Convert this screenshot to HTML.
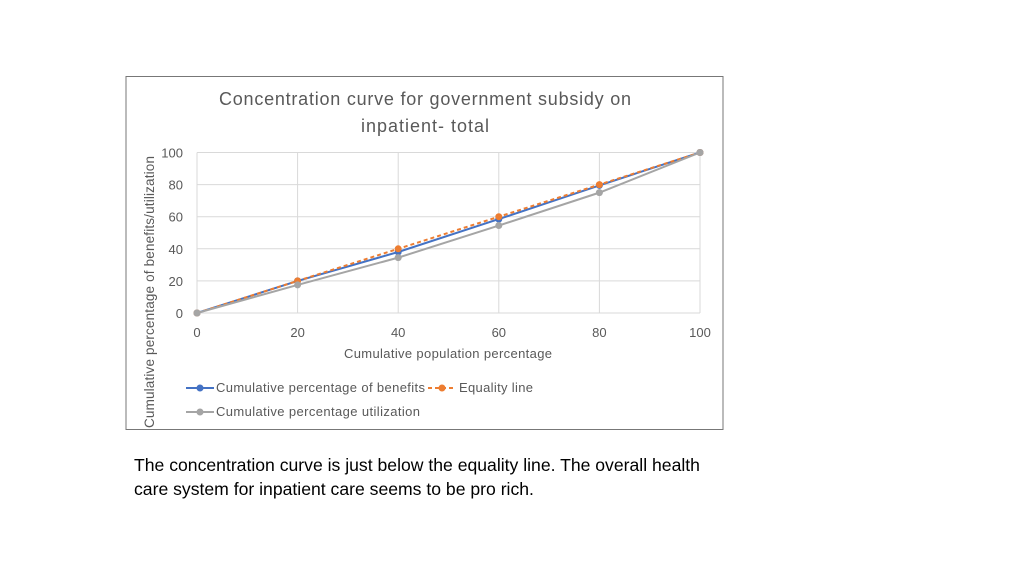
<!DOCTYPE html>
<html><head><meta charset="utf-8"><style>
body{margin:0;width:1024px;height:576px;background:#fff;font-family:"Liberation Sans",sans-serif;overflow:hidden;position:relative}
#cap{position:absolute;left:134px;top:453px;font-size:17.6px;line-height:24px;color:#000;width:640px;white-space:nowrap}
</style></head><body>
<svg width="1024" height="576" style="position:absolute;left:0;top:0">
<rect x="126" y="76.5" width="597" height="353" fill="#fff" stroke="#777"/>
<text x="425" y="105" text-anchor="middle" font-size="18" fill="#595959" textLength="412">Concentration curve for government subsidy on</text>
<text x="425" y="132" text-anchor="middle" font-size="18" fill="#595959" textLength="128">inpatient- total</text>
<g id="grid"></g><g id="series"></g>
<text x="448" y="358" text-anchor="middle" font-size="13" fill="#595959" textLength="208">Cumulative population percentage</text>
<text transform="translate(154,292) rotate(-90)" text-anchor="middle" font-size="13.5" fill="#595959" textLength="272">Cumulative percentage of benefits/utilization</text>
<g><line x1="186" y1="388" x2="214" y2="388" stroke="#4472C4" stroke-width="2"/><circle cx="200" cy="388" r="3.5" fill="#4472C4"/><text x="216" y="392" font-size="13" fill="#595959" textLength="209">Cumulative percentage of benefits</text></g>
<g><line x1="428" y1="388" x2="456" y2="388" stroke="#ED7D31" stroke-width="2" stroke-dasharray="4,3"/><circle cx="442" cy="388" r="3.5" fill="#ED7D31"/><text x="459" y="392" font-size="13" fill="#595959" textLength="74">Equality line</text></g>
<g><line x1="186" y1="412" x2="214" y2="412" stroke="#A5A5A5" stroke-width="2"/><circle cx="200" cy="412" r="3.5" fill="#A5A5A5"/><text x="216" y="416" font-size="13" fill="#595959" textLength="204">Cumulative percentage utilization</text></g>
</svg>
<div id="cap">The concentration curve is just below the equality line. The overall health<br>care system for inpatient care seems to be pro rich.</div>
<script>
const categories=[0,20,40,60,80,100];
const benefits=[0,20,38,58.5,79.5,100];
const equality=[0,20,40,60,80,100];
const utilization=[0,17.5,34.5,54.5,75,100];
const yTicks=[0,20,40,60,80,100];
const xTicks=[0,20,40,60,80,100];
const NS="http://www.w3.org/2000/svg";
const X=v=>197+v/100*503, Y=v=>313-v/100*160.5;
function mk(t,a,p){const e=document.createElementNS(NS,t);for(const k in a)e.setAttribute(k,a[k]);p.appendChild(e);return e;}
const g=document.getElementById('grid'), s=document.getElementById('series');
yTicks.forEach(v=>{const l=mk('line',{x1:197,x2:700,y1:Y(v),y2:Y(v),stroke:'#d9d9d9'},g);


const t=mk('text',{x:183,y:Y(v)+5,'text-anchor':'end','font-size':13,fill:'#595959'},g);t.textContent=v;

});
xTicks.forEach(v=>{const l=mk('line',{x1:X(v),x2:X(v),y1:Y(100),y2:Y(0),stroke:'#d9d9d9'},g);


const t=mk('text',{x:X(v),y:337,'text-anchor':'middle','font-size':13,fill:'#595959'},g);t.textContent=v;

});
function draw(vals,col,dash,name){const p=mk('polyline',{points:vals.map((v,i)=>X(categories[i])+','+Y(v)).join(' '),fill:'none',stroke:col,'stroke-width':2},s);
if(dash)p.setAttribute('stroke-dasharray','4,3');


vals.forEach((v,i)=>{const c=mk('circle',{cx:X(categories[i]),cy:Y(v),r:3.5,fill:col},s);

});}
draw(benefits,'#4472C4',false,'benefits');
draw(equality,'#ED7D31',true,'equality');
draw(utilization,'#A5A5A5',false,'utilization');
</script>
</body></html>
